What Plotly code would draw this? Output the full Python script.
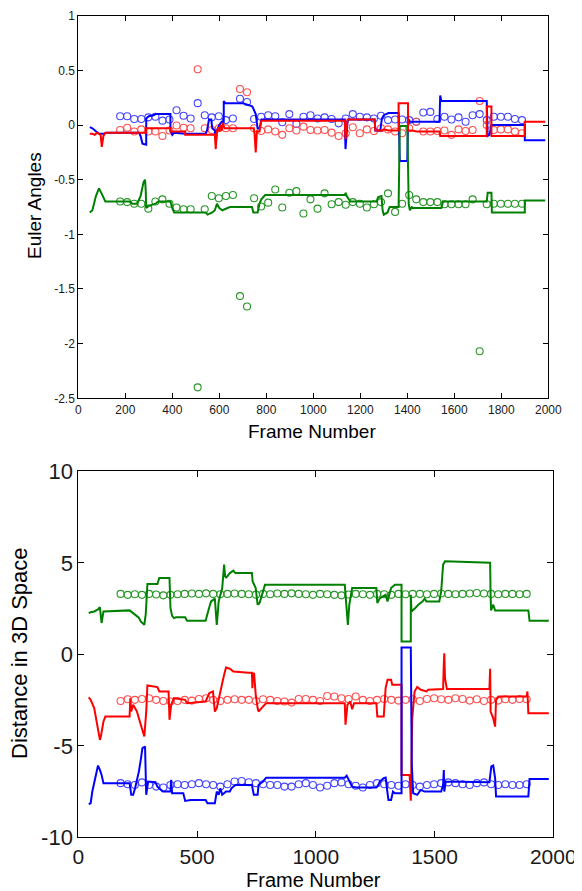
import plotly.graph_objects as go

# ---------------- data ----------------
circle_frames = [178, 208, 238, 268, 298, 328, 358, 388, 418, 448, 478, 508, 538, 568, 598,
                 628, 658, 688, 718, 748, 778, 808, 838, 868, 898, 928, 958, 988, 1018, 1048,
                 1078, 1108, 1138, 1168, 1198, 1228, 1258, 1288, 1318, 1348, 1378, 1408, 1438,
                 1468, 1498, 1528, 1558, 1588, 1618, 1648, 1678, 1708, 1738, 1768, 1798, 1828,
                 1858, 1888]

# Euler angles: measured (circles)
euler_blue_pts = [0.08, 0.08, 0.055, 0.055, 0.07, 0.075, 0.04, 0.05, 0.135, 0.085, 0.06, 0.2,
                  0.09, 0.07, 0.08, 0.045, 0.06, 0.24, 0.21, 0.055, 0.075, 0.09, 0.08, 0.025,
                  0.1, 0.01, 0.075, 0.09, 0.06, 0.07, 0.055, 0.015, 0.06, 0.1, 0.075, 0.07,
                  0.06, 0.085, 0.045, 0.05, 0.05, 0.045, 0.03, 0.115, 0.12, 0.055, 0.075, 0.05,
                  0.07, 0.03, 0.09, 0.1, 0.045, 0.075, 0.075, 0.075, 0.055, 0.045]
euler_red_pts = [-0.045, -0.025, -0.06, -0.04, -0.06, -0.06, -0.1, -0.05, -0.005, -0.025, -0.03,
                 0.51, -0.03, -0.045, -0.03, -0.03, -0.03, 0.33, 0.3, -0.03, -0.055, -0.04, -0.06,
                 -0.09, -0.03, -0.05, -0.015, -0.045, -0.05, -0.045, -0.07, -0.1, -0.075, -0.02,
                 -0.075, -0.04, -0.055, -0.03, -0.04, -0.06, -0.075, -0.03, 0.03, -0.06, -0.06,
                 -0.055, -0.05, -0.09, -0.04, -0.055, -0.045, 0.22, 0.0, -0.045, -0.04, -0.04,
                 -0.06, -0.075]
euler_green_pts = [-0.7, -0.705, -0.72, -0.72, -0.765, -0.7, -0.68, -0.72, -0.755, -0.77, -0.77,
                   -2.4, -0.77, -0.65, -0.67, -0.65, -0.64, -1.565, -1.66, -0.67, -0.745, -0.71,
                   -0.59, -0.755, -0.62, -0.605, -0.81, -0.68, -0.765, -0.625, -0.725, -0.705,
                   -0.73, -0.705, -0.72, -0.755, -0.725, -0.705, -0.625, -0.795, -0.72, -0.64,
                   -0.68, -0.705, -0.705, -0.705, -0.725, -0.725, -0.725, -0.725, -0.68, -2.07,
                   -0.725, -0.72, -0.72, -0.72, -0.72, -0.72]

# Euler angles: estimated (lines)
euler_blue_f = [49, 60, 76, 90, 110, 120, 258, 265, 273, 284, 289, 289, 300, 320, 330, 392, 392, 400,
                408, 455, 542, 548, 556, 566, 570, 581, 586, 590, 600, 610, 619, 619, 625, 700, 740,
                745, 755, 763, 772, 779, 1134, 1137, 1142, 1146, 1150, 1261, 1264, 1285, 1292, 1300,
                1320, 1363, 1368, 1400, 1403, 1406, 1411, 1537, 1540, 1545, 1738, 1742, 1750, 1758,
                1900, 1900, 1987]
euler_blue_v = [-0.02, -0.03, -0.06, -0.08, -0.08, -0.07, -0.07, -0.1, -0.17, -0.18, -0.18, 0.06,
                0.08, 0.09, 0.1, 0.1, -0.05, -0.09, -0.07, -0.08, -0.08, -0.05, 0.05, 0.05, -0.03,
                -0.05, -0.15, -0.05, 0.0, 0.03, 0.03, 0.22, 0.2, 0.2, 0.17, 0.15, 0.1, -0.03, -0.03,
                0.05, 0.05, -0.22, 0.0, 0.04, 0.05, 0.05, -0.05, -0.05, 0.06, 0.09, 0.11, 0.11,
                -0.33, -0.33, 0.0, 0.05, 0.03, 0.03, 0.27, 0.22, 0.22, -0.1, -0.09, 0.0, 0.0,
                -0.14, -0.14]
euler_red_f = [49, 60, 70, 80, 95, 100, 107, 115, 289, 289, 392, 392, 455, 455, 581, 585, 589, 595,
               600, 605, 610, 615, 622, 747, 750, 755, 760, 771, 779, 1134, 1137, 1142, 1146, 1261,
               1264, 1290, 1300, 1320, 1363, 1363, 1403, 1403, 1420, 1440, 1537, 1540, 1545, 1738,
               1738, 1758, 1758, 1900, 1900, 1987]
euler_red_v = [-0.08, -0.08, -0.09, -0.07, -0.09, -0.2, -0.1, -0.07, -0.07, -0.03, -0.03, -0.06,
               -0.06, -0.09, -0.09, -0.22, -0.07, -0.02, -0.06, 0.0, -0.05, 0.02, -0.03, -0.03,
               -0.08, -0.25, -0.06, -0.06, 0.04, 0.04, -0.13, 0.0, 0.05, 0.05, -0.05, -0.05, -0.04,
               -0.05, -0.05, 0.2, 0.2, -0.05, -0.05, -0.06, -0.06, -0.1, -0.1, -0.1, 0.17, 0.17,
               -0.1, -0.1, 0.03, 0.03]
euler_green_f = [49, 60, 75, 88, 100, 115, 218, 230, 250, 265, 278, 284, 287, 289, 300, 329, 340,
                 392, 400, 408, 542, 550, 570, 581, 590, 600, 613, 630, 645, 739, 745, 763, 771,
                 779, 795, 1134, 1138, 1142, 1150, 1158, 1269, 1276, 1290, 1295, 1300, 1316, 1325,
                 1363, 1368, 1400, 1406, 1411, 1419, 1427, 1545, 1552, 1738, 1742, 1758, 1760,
                 1900, 1900, 1987]
euler_green_v = [-0.8, -0.78, -0.65, -0.58, -0.63, -0.7, -0.7, -0.72, -0.72, -0.65, -0.52, -0.5,
                 -0.6, -0.76, -0.74, -0.72, -0.7, -0.7, -0.76, -0.8, -0.8, -0.82, -0.8, -0.78,
                 -0.72, -0.76, -0.78, -0.76, -0.75, -0.75, -0.8, -0.8, -0.72, -0.68, -0.64, -0.64,
                 -0.62, -0.65, -0.68, -0.7, -0.7, -0.66, -0.65, -0.78, -0.82, -0.8, -0.75, -0.75,
                 -0.01, -0.01, -0.72, -0.78, -0.75, -0.76, -0.76, -0.7, -0.7, -0.62, -0.62, -0.8,
                 -0.8, -0.69, -0.69]

# Distance in 3D space: measured (circles)
dist_green_pts = [3.30, 3.25, 3.28, 3.25, 3.30, 3.27, 3.22, 3.25, 3.28, 3.30, 3.32, 3.30, 3.33,
                  3.30, 3.28, 3.30, 3.32, 3.30, 3.28, 3.26, 3.30, 3.28, 3.32, 3.30, 3.33, 3.30,
                  3.28, 3.25, 3.30, 3.28, 3.25, 3.22, 3.27, 3.30, 3.28, 3.25, 3.30, 3.28, 3.25,
                  3.30, 3.28, 3.30, 3.30, 3.28, 3.30, 3.32, 3.30, 3.28, 3.30, 3.32, 3.35, 3.32,
                  3.30, 3.28, 3.30, 3.30, 3.28, 3.30]
dist_red_pts = [-2.55, -2.46, -2.49, -2.44, -2.40, -2.49, -2.55, -2.58, -2.55, -2.49, -2.53, -2.44,
                -2.40, -2.49, -2.55, -2.49, -2.46, -2.49, -2.49, -2.55, -2.46, -2.49, -2.55, -2.58,
                -2.64, -2.44, -2.44, -2.49, -2.55, -2.28, -2.31, -2.40, -2.44, -2.31, -2.49, -2.55,
                -2.49, -2.44, -2.49, -2.53, -2.49, -2.46, -2.55, -2.44, -2.40, -2.46, -2.49, -2.40,
                -2.44, -2.53, -2.46, -2.55, -2.49, -2.53, -2.46, -2.49, -2.44, -2.46]
dist_blue_pts = [-7.04, -7.10, -7.14, -7.00, -7.14, -7.23, -7.28, -7.14, -7.10, -7.14, -7.10, -7.04,
                 -7.10, -7.14, -7.23, -7.10, -6.95, -6.92, -6.99, -7.04, -7.10, -7.14, -7.14, -7.23,
                 -7.23, -7.10, -7.04, -7.14, -7.28, -7.18, -7.04, -7.00, -7.10, -7.18, -7.28, -7.14,
                 -7.04, -7.10, -7.14, -7.18, -7.10, -7.14, -7.23, -7.14, -7.10, -7.04, -7.00, -7.04,
                 -7.10, -7.14, -7.04, -7.00, -7.10, -7.14, -7.10, -7.14, -7.14, -7.10]

# Distance in 3D space: estimated (lines)
dist_green_f = [44, 52, 67, 83, 91, 95, 98, 103, 106, 216, 231, 239, 247, 255, 263, 270, 278, 284,
                286, 291, 333, 341, 384, 388, 395, 403, 411, 450, 458, 536, 552, 559, 575, 580, 583,
                587, 591, 606, 614, 618, 622, 638, 653, 661, 731, 734, 747, 755, 763, 778, 786, 1122,
                1125, 1130, 1135, 1141, 1153, 1255, 1259, 1270, 1294, 1302, 1317, 1333, 1361, 1361,
                1400, 1400, 1403, 1419, 1434, 1450, 1458, 1466, 1520, 1528, 1536, 1544, 1734, 1736,
                1738, 1747, 1755, 1895, 1900, 1981]
dist_green_v = [2.25, 2.3, 2.34, 2.45, 2.58, 2.0, 1.71, 2.1, 2.34, 2.4, 2.25, 2.2, 2.11, 2.0, 1.8,
                1.71, 1.61, 2.2, 2.71, 3.84, 3.84, 4.17, 4.17, 2.53, 2.1, 1.98, 2.02, 2.02, 1.83,
                1.83, 2.6, 2.89, 3.04, 2.3, 1.61, 2.2, 2.89, 3.62, 4.9, 4.3, 4.17, 4.44, 4.57, 4.44,
                4.44, 3.98, 3.62, 2.71, 2.8, 3.44, 3.8, 3.8, 3.2, 2.71, 1.61, 2.71, 3.62, 3.62, 2.8,
                3.07, 3.25, 2.89, 3.62, 3.8, 3.8, 0.7, 0.7, 3.25, 2.34, 2.53, 2.74, 2.89, 3.04, 2.89,
                2.89, 3.44, 4.9, 5.08, 5.0, 3.2, 2.4, 2.71, 2.4, 2.4, 1.83, 1.83]
dist_red_f = [44, 52, 67, 83, 91, 95, 98, 106, 114, 216, 219, 223, 231, 247, 255, 270, 278, 286, 291,
              333, 341, 380, 384, 391, 403, 450, 458, 536, 552, 567, 575, 583, 591, 606, 614, 622,
              638, 653, 716, 731, 733, 735, 740, 747, 755, 759, 778, 791, 1122, 1125, 1133, 1145,
              1153, 1161, 1255, 1259, 1286, 1294, 1302, 1317, 1322, 1361, 1361, 1395, 1400, 1406,
              1416, 1427, 1442, 1466, 1473, 1536, 1539, 1541, 1544, 1552, 1731, 1734, 1736, 1747,
              1755, 1759, 1770, 1888, 1891, 1895, 1981]
dist_red_v = [-2.36, -2.49, -2.94, -4.04, -4.68, -4.5, -4.22, -3.67, -3.4, -3.4, -2.4, -3.13, -2.76,
              -3.13, -3.5, -4.13, -4.49, -3.13, -1.7, -1.79, -2.03, -2.03, -3.58, -2.76, -2.4, -2.49,
              -2.67, -2.58, -2.12, -2.03, -3.13, -2.94, -2.4, -1.58, -1.12, -0.72, -0.79, -0.94,
              -1.01, -1.01, -1.85, -1.2, -1.01, -2.2, -2.94, -3.13, -2.85, -2.67, -2.67, -3.85,
              -2.76, -2.58, -3.0, -2.67, -2.67, -3.4, -3.4, -1.85, -1.39, -1.39, -1.67, -1.67,
              -6.59, -6.59, -8.0, -3.5, -2.03, -1.79, -1.94, -2.03, -1.94, -1.9, -0.5, 0.06, -1.3,
              -1.9, -1.9, -0.79, -3.13, -3.49, -3.95, -2.49, -2.31, -2.31, -2.03, -3.22, -3.22]
dist_blue_f = [44, 52, 59, 75, 83, 91, 98, 106, 216, 223, 231, 239, 255, 263, 270, 281, 286, 294,
               325, 333, 341, 356, 388, 391, 395, 442, 450, 473, 536, 544, 575, 583, 591, 598, 606,
               622, 638, 645, 661, 731, 739, 755, 759, 778, 791, 1122, 1130, 1138, 1153, 1169, 1255,
               1263, 1270, 1286, 1294, 1302, 1306, 1317, 1325, 1333, 1361, 1361, 1400, 1404, 1410,
               1427, 1442, 1458, 1528, 1536, 1539, 1541, 1547, 1731, 1734, 1739, 1747, 1755, 1759,
               1895, 1900, 1981]
dist_blue_v = [-8.19, -8.14, -7.5, -6.59, -6.08, -6.32, -6.59, -7.04, -7.04, -7.68, -7.68, -7.32,
               -6.41, -5.77, -5.13, -5.04, -7.68, -6.95, -6.99, -7.23, -7.32, -7.5, -7.5, -6.86,
               -7.59, -7.59, -8.01, -7.96, -7.96, -8.14, -8.14, -7.5, -7.68, -7.32, -7.68, -7.5,
               -7.5, -7.32, -7.14, -7.14, -7.68, -7.68, -7.14, -6.95, -6.74, -6.74, -6.63, -6.86,
               -7.23, -7.28, -7.28, -7.14, -6.95, -6.77, -6.74, -7.59, -7.96, -7.96, -7.5, -7.59,
               -7.59, 0.37, 0.37, -6.0, -7.59, -7.68, -7.41, -7.5, -7.5, -7.14, -6.32, -7.5, -6.95,
               -6.99, -6.59, -6.13, -6.08, -6.77, -7.77, -7.77, -6.81, -6.81]

top_xticks = [0, 200, 400, 600, 800, 1000, 1200, 1400, 1600, 1800, 2000]
top_yticks = [-2.5, -2, -1.5, -1, -0.5, 0, 0.5, 1]
top_yticktext = ["-2.5", "-2", "-1.5", "-1", "-0.5", "0", "0.5", "1"]
bot_xticks = [0, 500, 1000, 1500, 2000]
bot_yticks = [-10, -5, 0, 5, 10]
bot_yticktext = ["-10", "-5", "0", "5", "10"]

# ---------------- styles ----------------
BLUE, RED, GREEN = "rgb(0,0,255)", "rgb(255,0,0)", "rgb(0,128,0)"
BLUE_C, RED_C, GREEN_C = "rgb(70,70,255)", "rgb(255,80,80)", "rgb(40,150,40)"
FONT = "Liberation Sans, Arial, sans-serif"

fig = go.Figure()


def add_circles(y, color, xa, ya):
    fig.add_trace(go.Scatter(x=circle_frames, y=y, mode="markers", xaxis=xa, yaxis=ya,
                             marker=dict(symbol="circle-open", size=7, color=color,
                                         line=dict(width=1.1, color=color)),
                             showlegend=False, hoverinfo="skip"))


def add_line(x, y, color, xa, ya):
    fig.add_trace(go.Scatter(x=x, y=y, mode="lines", xaxis=xa, yaxis=ya,
                             line=dict(color=color, width=2),
                             showlegend=False, hoverinfo="skip"))


# top panel
add_circles(euler_blue_pts, BLUE_C, "x", "y")
add_circles(euler_red_pts, RED_C, "x", "y")
add_circles(euler_green_pts, GREEN_C, "x", "y")
add_line(euler_blue_f, euler_blue_v, BLUE, "x", "y")
add_line(euler_green_f, euler_green_v, GREEN, "x", "y")
add_line(euler_red_f, euler_red_v, RED, "x", "y")

# bottom panel
add_circles(dist_green_pts, GREEN_C, "x2", "y2")
add_circles(dist_red_pts, RED_C, "x2", "y2")
add_circles(dist_blue_pts, BLUE_C, "x2", "y2")
add_line(dist_green_f, dist_green_v, GREEN, "x2", "y2")
add_line(dist_red_f, dist_red_v, RED, "x2", "y2")
add_line(dist_blue_f, dist_blue_v, BLUE, "x2", "y2")

# page body has an 8px default margin: size the figure to the visible area
OFF = 8
W, H = 582 - OFF, 891 - OFF


def px_x(p):
    return (p - OFF) / W


def px_y(p):
    return 1 - (p - OFF) / H


axis_common = dict(showline=True, linecolor="black", linewidth=1, mirror="ticks",
                   ticks="inside", tickcolor="black", showgrid=False, zeroline=False,
                   automargin=False)

fig.update_layout(
    template="none",
    width=W, height=H, margin=dict(l=0, r=0, t=0, b=0, pad=0, autoexpand=False),
    paper_bgcolor="white", plot_bgcolor="white",
    font=dict(family=FONT, color="#1a1a1a"),
    xaxis=dict(domain=[px_x(78.3), px_x(548.3)], range=[0, 2000], anchor="y",
               tickvals=top_xticks, ticklen=5, tickfont=dict(size=12), **axis_common),
    yaxis=dict(domain=[px_y(398.3), px_y(15.7)], range=[-2.5, 1], anchor="x",
               tickvals=top_yticks, ticktext=top_yticktext, ticklen=5,
               tickfont=dict(size=12), **axis_common),
    xaxis2=dict(domain=[px_x(78.3), px_x(553.3)], range=[0, 2000], anchor="y2",
                tickvals=bot_xticks, ticklen=6, tickfont=dict(size=21), **axis_common),
    yaxis2=dict(domain=[px_y(837.3), px_y(471.3)], range=[-10, 10], anchor="x2",
                tickvals=bot_yticks, ticktext=bot_yticktext, ticklen=6,
                tickfont=dict(size=22), **axis_common),
    annotations=[
        dict(text="Euler Angles", x=px_x(34), y=px_y(206), xref="paper", yref="paper",
             textangle=-90, showarrow=False, xanchor="center", yanchor="middle",
             font=dict(size=19, color="black")),
        dict(text="Frame Number", x=px_x(312), y=px_y(431), xref="paper", yref="paper",
             showarrow=False, xanchor="center", yanchor="middle",
             font=dict(size=19, color="black")),
        dict(text="Distance in 3D Space", x=px_x(19), y=px_y(653), xref="paper", yref="paper",
             textangle=-90, showarrow=False, xanchor="center", yanchor="middle",
             font=dict(size=22, color="black")),
        dict(text="Frame Number", x=px_x(313), y=px_y(880), xref="paper", yref="paper",
             showarrow=False, xanchor="center", yanchor="middle",
             font=dict(size=20, color="black")),
    ],
)

fig.write_html("out.html")
